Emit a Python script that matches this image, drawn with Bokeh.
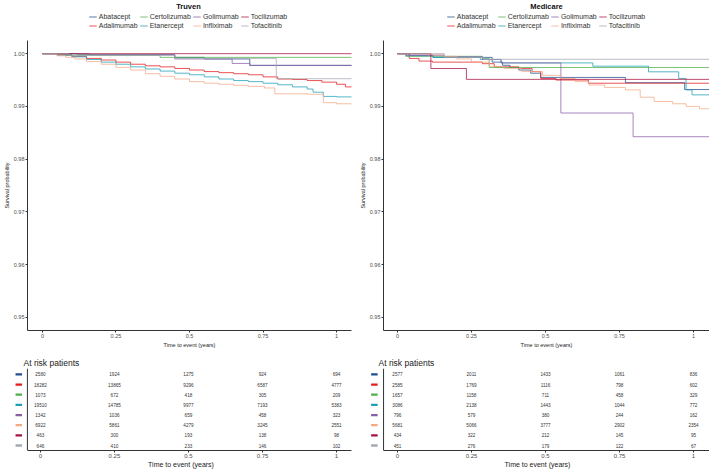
from bokeh.plotting import figure
from bokeh.layouts import row, column
from bokeh.models import (Range1d, FixedTicker, PrintfTickFormatter, Legend,
                          LegendItem, Span, ColumnDataSource)
from bokeh.embed import file_html
from bokeh.resources import INLINE
from bokeh.core.properties import value

# ---------------- data ----------------
drugs = ["Abatacept", "Adalimumab", "Certolizumab", "Etanercept",
         "Golimumab", "Infliximab", "Tocilizumab", "Tofacitinib"]
colors = ["#1f4e8f", "#e41a1c", "#4daf4a", "#1b9fb6",
          "#8b5ea8", "#f4a886", "#a8123e", "#a3aab3"]
panel_titles = ["Truven", "Medicare"]
x_ticks = [0, 0.25, 0.5, 0.75, 1]
x_tick_labels = ["0", "0.25", "0.5", "0.75", "1"]
y_ticks = [0.95, 0.96, 0.97, 0.98, 0.99, 1.00]
follow_up_end = 1.053

# Truven survival curves (event times, survival after event)
tru_abatacept_t = [0, 0.12, 0.45, 0.55, 0.705]
tru_abatacept_s = [1.0, 0.9998, 0.9993, 0.9990, 0.9978]
tru_adalimumab_t = [0, 0.05, 0.10, 0.15, 0.20, 0.25, 0.30, 0.35, 0.40, 0.45, 0.50,
                    0.55, 0.60, 0.65, 0.70, 0.75, 0.80, 0.85, 0.90, 0.95, 1.00, 1.03]
tru_adalimumab_s = [1.0, 0.9998, 0.9995, 0.9991, 0.9988, 0.9984, 0.9980, 0.9977, 0.9975,
                    0.9972, 0.9969, 0.9966, 0.9964, 0.9962, 0.9960, 0.9956, 0.9952,
                    0.9951, 0.9949, 0.9946, 0.9942, 0.9937]
tru_certolizumab_t = [0, 0.08, 0.40]
tru_certolizumab_s = [1.0, 0.9997, 0.9993]
tru_etanercept_t = [0, 0.05, 0.10, 0.15, 0.20, 0.25, 0.30, 0.35, 0.40, 0.45, 0.50, 0.55,
                    0.60, 0.65, 0.70, 0.75, 0.80, 0.85, 0.90, 0.92, 0.955, 1.00]
tru_etanercept_s = [1.0, 0.9997, 0.9994, 0.9989, 0.9984, 0.9980, 0.9975, 0.9971, 0.9967,
                    0.9963, 0.9960, 0.9956, 0.9952, 0.9949, 0.9947, 0.9944, 0.9941,
                    0.9937, 0.9933, 0.9927, 0.9919, 0.9918]
tru_golimumab_t = [0, 0.16, 0.45, 0.645, 0.705]
tru_golimumab_s = [1.0, 0.9998, 0.9990, 0.99815, 0.99775]
tru_infliximab_t = [0, 0.05, 0.08, 0.11, 0.15, 0.20, 0.25, 0.30, 0.35, 0.40, 0.45, 0.50,
                    0.55, 0.60, 0.65, 0.70, 0.755, 0.79, 0.90, 0.955, 1.00]
tru_infliximab_s = [1.0, 0.9996, 0.9993, 0.9990, 0.9985, 0.9980, 0.9974, 0.9969, 0.9962,
                    0.9957, 0.9952, 0.9947, 0.9944, 0.9942, 0.9940, 0.9938, 0.9935,
                    0.9924, 0.9923, 0.9907, 0.9905]
tru_tocilizumab_t = [0]
tru_tocilizumab_s = [1.0]
tru_tofacitinib_t = [0, 0.09, 0.45, 0.795]
tru_tofacitinib_s = [1.0, 0.9997, 0.9991, 0.99525]

# Medicare survival curves
med_abatacept_t = [0, 0.04, 0.12, 0.32, 0.355, 0.38, 0.41, 0.45, 0.484, 0.77, 0.97]
med_abatacept_s = [1.0, 0.9997, 0.9993, 0.9984, 0.9978, 0.9974, 0.9969, 0.9963, 0.9955,
                   0.9945, 0.9932]
med_adalimumab_t = [0, 0.04, 0.073, 0.118, 0.287, 0.327, 0.41, 0.455, 0.484, 0.535, 0.645]
med_adalimumab_s = [1.0, 0.9991, 0.9986, 0.9984, 0.9981, 0.9975, 0.9972, 0.9966, 0.9953,
                    0.9950, 0.9944]
med_certolizumab_t = [0, 0.028, 0.287, 0.31]
med_certolizumab_s = [1.0, 0.9995, 0.9991, 0.99738]
med_etanercept_t = [0, 0.03, 0.12, 0.28, 0.35, 0.66, 0.848, 0.95, 0.975, 0.995]
med_etanercept_s = [1.0, 0.9996, 0.9993, 0.9989, 0.99825, 0.99763, 0.99656, 0.99531,
                    0.99313, 0.99219]
med_golimumab_t = [0, 0.03, 0.158, 0.287, 0.35, 0.552, 0.796]
med_golimumab_s = [1.0, 0.9997, 0.9994, 0.9989, 0.99825, 0.98875, 0.98425]
med_infliximab_t = [0, 0.10, 0.158, 0.20, 0.25, 0.31, 0.36, 0.42, 0.49, 0.55, 0.60, 0.647,
                    0.70, 0.77, 0.82, 0.867, 0.93, 0.975, 1.02]
med_infliximab_s = [1.0, 0.9998, 0.9995, 0.9990, 0.9984, 0.9976, 0.9972, 0.9966, 0.9959,
                    0.9953, 0.9947, 0.99406, 0.9936, 0.99313, 0.99175, 0.99094, 0.9905,
                    0.9900, 0.98956]
med_tocilizumab_t = [0, 0.113, 0.233]
med_tocilizumab_s = [1.0, 0.99719, 0.99513]
med_tofacitinib_t = [0, 0.158, 0.29]
med_tofacitinib_s = [1.0, 0.9993, 0.99894]

# Numbers at risk (rows follow `drugs`, columns follow `x_ticks`)
truven_at_risk = [
    [2580, 1924, 1275, 924, 694],
    [18282, 13865, 9296, 6587, 4777],
    [1073, 672, 418, 305, 209],
    [19510, 14785, 9977, 7193, 5383],
    [1342, 1036, 659, 458, 323],
    [6922, 5861, 4279, 3245, 2551],
    [463, 300, 193, 138, 98],
    [646, 410, 233, 146, 102],
]
medicare_at_risk = [
    [2577, 2011, 1433, 1061, 836],
    [2585, 1769, 1116, 798, 602],
    [1657, 1158, 711, 458, 329],
    [3086, 2138, 1443, 1044, 772],
    [796, 579, 380, 244, 162],
    [5681, 5066, 3777, 2902, 2354],
    [434, 322, 212, 145, 95],
    [451, 276, 179, 122, 67],
]

truven_curves = [
    (tru_abatacept_t, tru_abatacept_s), (tru_adalimumab_t, tru_adalimumab_s),
    (tru_certolizumab_t, tru_certolizumab_s), (tru_etanercept_t, tru_etanercept_s),
    (tru_golimumab_t, tru_golimumab_s), (tru_infliximab_t, tru_infliximab_s),
    (tru_tocilizumab_t, tru_tocilizumab_s), (tru_tofacitinib_t, tru_tofacitinib_s),
]
medicare_curves = [
    (med_abatacept_t, med_abatacept_s), (med_adalimumab_t, med_adalimumab_s),
    (med_certolizumab_t, med_certolizumab_s), (med_etanercept_t, med_etanercept_s),
    (med_golimumab_t, med_golimumab_s), (med_infliximab_t, med_infliximab_s),
    (med_tocilizumab_t, med_tocilizumab_s), (med_tofacitinib_t, med_tofacitinib_s),
]

FONT = "Liberation Sans"
AXIS_COL = "#333333"
TEXT_COL = "#4d4d4d"
CURVE_ALPHA = 0.75


def style_axis(ax, tick_size, label_size):
    ax.axis_line_color = AXIS_COL
    ax.axis_line_width = 1
    ax.major_tick_line_color = AXIS_COL
    ax.minor_tick_line_color = None
    ax.major_tick_out = 2
    ax.major_tick_in = 0
    ax.major_label_text_font = FONT
    ax.major_label_text_font_size = tick_size
    ax.major_label_text_color = TEXT_COL
    ax.major_label_standoff = 1
    ax.axis_label_text_font = FONT
    ax.axis_label_text_font_size = label_size
    ax.axis_label_text_font_style = "normal"
    ax.axis_label_text_color = "#222222"
    ax.axis_label_standoff = 1


def draw_curves(p, curves):
    rs = []
    for (t, s), c in zip(curves, colors):
        xs = list(t) + [follow_up_end]
        ys = list(s) + [s[-1]]
        rs.append(p.step(xs, ys, mode="after", line_color=c, line_width=1,
                         line_alpha=CURVE_ALPHA))
    return rs


def header_figure(title, curves, width, border_left, border_right):
    # the curves are drawn outside this strip's y range; only their legend shows
    p = figure(width=width, height=38, output_backend="svg", toolbar_location=None,
               x_range=Range1d(0, 1), y_range=Range1d(2, 3),
               min_border_left=border_left, min_border_right=border_right,
               min_border_top=11, min_border_bottom=0)
    p.axis.visible = False
    p.grid.visible = False
    p.outline_line_color = None
    p.title.text = title
    p.title.align = "center"
    p.title.vertical_align = "top"
    p.title.text_font = FONT
    p.title.text_font_size = "7.5px"
    p.title.text_font_style = "bold"
    p.title.text_color = "#111111"
    p.title.standoff = 2
    renderers = draw_curves(p, curves)
    order = [0, 2, 4, 6, 1, 3, 5, 7]
    items = [LegendItem(label=drugs[i], renderers=[renderers[i]]) for i in order]
    legend = Legend(items=items, orientation="horizontal", ncols=4,
                    location="top_center",
                    label_text_font=FONT, label_text_font_size="7px",
                    label_text_color="#333333", glyph_width=8, glyph_height=7,
                    label_height=7, label_standoff=2, spacing=2, padding=0, margin=0,
                    background_fill_alpha=0, border_line_alpha=0)
    p.add_layout(legend)
    return p


def km_figure(curves, width, border_left, border_right, xr):
    p = figure(width=width, height=312, output_backend="svg", toolbar_location=None,
               x_range=Range1d(*xr), y_range=Range1d(0.9475, 1.0025),
               min_border_left=border_left, min_border_right=border_right,
               min_border_top=2, min_border_bottom=17)
    p.grid.visible = False
    p.outline_line_color = None
    draw_curves(p, curves)
    p.xaxis.ticker = FixedTicker(ticks=x_ticks)
    p.xaxis.major_label_overrides = {k: v for k, v in zip(x_ticks, x_tick_labels)}
    p.xaxis.axis_label = "Time to event (years)"
    p.yaxis.ticker = FixedTicker(ticks=y_ticks)
    p.yaxis.formatter = PrintfTickFormatter(format="%.2f")
    p.yaxis.axis_label = "Survival probability"
    style_axis(p.xaxis[0], "5.5px", "5.5px")
    style_axis(p.yaxis[0], "5.5px", "5.5px")
    return p


def risk_figure(at_risk, width, border_right, xr, axis_x, key_x):
    n = len(drugs)
    p = figure(width=width, height=120, output_backend="svg", toolbar_location=None,
               x_range=Range1d(*xr), y_range=Range1d(0.51, n + 0.58),
               min_border_left=10, min_border_right=border_right,
               min_border_top=18, min_border_bottom=19)
    p.grid.visible = False
    p.outline_line_color = None
    p.yaxis.visible = False
    p.title.text = "At risk patients"
    p.title.align = "left"
    p.title.offset = 13
    p.title.text_font = FONT
    p.title.text_font_size = "8.5px"
    p.title.text_font_style = "normal"
    p.title.text_color = "#222222"
    p.title.standoff = 2

    xs, ys, txt = [], [], []
    for i, vals in enumerate(at_risk):
        for xt, v in zip(x_ticks, vals):
            xs.append(xt)
            ys.append(n - i)
            txt.append(str(v))
    src = ColumnDataSource(dict(x=xs, y=ys, text=txt))
    p.text(x="x", y="y", text="text", source=src, text_font=value(FONT),
           text_font_size="4.6px", text_align="center", text_baseline="middle",
           text_color="#333333")

    # coloured row keys (the table's row labels)
    key_src = ColumnDataSource(dict(y=[n - i for i in range(n)], color=colors))
    p.rect(x=key_x, y="y", width=6.5, height=2.3, width_units="screen",
           height_units="screen", fill_color="color", line_color=None, source=key_src)

    p.add_layout(Span(location=axis_x, dimension="height", line_color=AXIS_COL,
                      line_width=1))
    p.xaxis.ticker = FixedTicker(ticks=x_ticks)
    p.xaxis.major_label_overrides = {k: v for k, v in zip(x_ticks, x_tick_labels)}
    p.xaxis.axis_label = "Time to event (years)"
    p.xaxis.bounds = (axis_x, xr[1])
    style_axis(p.xaxis[0], "6px", "7px")
    p.xaxis.axis_label_standoff = 0
    return p


hd_l = header_figure(panel_titles[0], truven_curves, 355, 25, 4)
hd_r = header_figure(panel_titles[1], medicare_curves, 354, 28, 0)
km_l = km_figure(truven_curves, 355, 25, 4, (-0.0507, 1.0507))
km_r = km_figure(medicare_curves, 354, 28, 0, (-0.047, 1.054))
tb_l = risk_figure(truven_at_risk, 355, 4, (-0.101, 1.0507), -0.0439, -0.073)
tb_r = risk_figure(medicare_at_risk, 354, 0, (-0.108, 1.054), -0.047, -0.078)

layout = column(row(hd_l, hd_r), row(km_l, km_r), row(tb_l, tb_r))

open("out.html", "w").write(file_html(layout, INLINE))
